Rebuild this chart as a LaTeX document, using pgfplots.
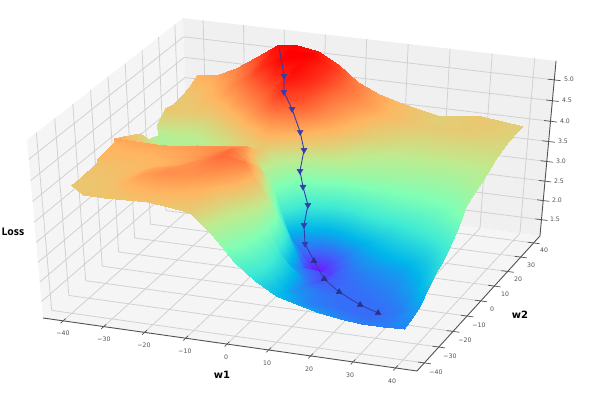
\documentclass[border=0pt]{standalone}
\usepackage{pgfplots}
\usepackage{pgfplotstable}
\pgfplotsset{compat=1.18}
\usepackage{fontspec}
\setmainfont{DejaVu Sans}
\newfontfamily\lossfont{Open Sans}
\definecolor{pathblue}{rgb}{0.2,0.24,0.68}
\definecolor{gridc}{gray}{0.82}
\definecolor{axc}{gray}{0.32}
\definecolor{paneL}{gray}{0.96}
\definecolor{paneB}{gray}{0.94}
\pgfplotstableread[row sep=\\]{
w1 w2 z\\
-18.9 38.6 5.25\\ -11 20.9 5.2\\ -8.7 14.6 5.05\\ -5.4 11 4.8\\ -3.2 10.3 4.3\\ -1.5 8.3 3.95\\ -2.65 8.85 3.4\\ -1.1 6.7 3.1\\ 0.5 5.7 2.7\\ -0.25 5.2 2.2\\ 0.33 4.4 1.75\\ 3.95 0.63 1.5\\ 9.7 -8.2 1.45\\ 16.9 -18.1 1.6\\ 24.4 -25 1.65\\ 30.2 -29.4 1.7\\
}\pathtable
% Loss on a 17 x 17 grid: w2 = 40, 35, ..., -40 (one line each); w1 = -40, -35, ..., 40 along the line
\pgfplotstableread[row sep=\\]{
z\\
4.28\\4.35\\4.57\\4.9\\5.25\\5.3\\5.2\\4.95\\4.57\\4.35\\4.2\\4.1\\4.0\\4.05\\4.1\\4.05\\4.0\\
4.15\\4.25\\4.45\\4.75\\5.15\\5.35\\5.3\\5.05\\4.68\\4.42\\4.22\\4.12\\4.02\\4.03\\4.07\\4.03\\3.98\\
4.07\\4.15\\4.35\\4.65\\5.05\\5.3\\5.25\\5.05\\4.7\\4.45\\4.25\\4.12\\4.05\\4.05\\4.05\\4.0\\3.95\\
4.05\\4.08\\4.2\\4.4\\4.75\\5.1\\5.25\\5.05\\4.6\\4.35\\4.12\\4.0\\3.92\\3.92\\3.92\\3.9\\3.9\\
4.1\\4.05\\4.05\\4.2\\4.5\\4.8\\5.2\\4.95\\4.55\\4.25\\4.0\\3.88\\3.8\\3.8\\3.8\\3.8\\3.83\\
3.85\\3.75\\3.75\\3.95\\4.2\\4.55\\5.0\\4.85\\4.4\\4.1\\3.75\\3.62\\3.6\\3.6\\3.6\\3.65\\3.72\\
3.62\\3.55\\3.55\\3.7\\3.9\\4.15\\4.45\\4.4\\4.05\\3.75\\3.5\\3.42\\3.4\\3.38\\3.4\\3.5\\3.63\\
3.8\\3.68\\3.6\\3.65\\3.78\\3.95\\4.1\\3.4\\2.45\\2.15\\2.4\\2.75\\2.95\\3.05\\3.15\\3.25\\3.5\\
4.0\\3.85\\3.7\\3.7\\3.75\\3.95\\4.15\\3.0\\1.4\\1.12\\1.65\\2.05\\2.35\\2.6\\2.8\\3.05\\3.4\\
4.25\\4.12\\4.05\\4.05\\4.1\\4.25\\4.4\\3.6\\2.25\\1.2\\1.45\\1.8\\2.05\\2.25\\2.42\\2.7\\3.05\\
4.38\\4.36\\4.35\\4.38\\4.45\\4.5\\4.55\\4.05\\2.85\\1.75\\1.5\\1.68\\1.85\\1.97\\2.1\\2.4\\2.78\\
4.28\\4.25\\4.25\\4.3\\4.38\\4.5\\4.68\\4.35\\3.4\\1.95\\1.6\\1.65\\1.75\\1.85\\1.95\\2.2\\2.6\\
4.2\\4.2\\4.2\\4.25\\4.35\\4.52\\4.72\\4.6\\3.85\\2.2\\1.75\\1.7\\1.7\\1.75\\1.85\\2.05\\2.46\\
4.15\\4.15\\4.2\\4.35\\4.45\\4.5\\4.55\\4.3\\3.75\\2.65\\1.9\\1.78\\1.72\\1.72\\1.76\\1.9\\2.25\\
4.1\\4.1\\4.2\\4.4\\4.5\\4.45\\4.3\\3.95\\3.45\\2.75\\2.0\\1.82\\1.75\\1.7\\1.7\\1.8\\2.05\\
4.1\\4.1\\4.15\\4.25\\4.3\\4.25\\4.15\\3.75\\3.25\\2.7\\2.15\\1.9\\1.85\\1.78\\1.75\\1.8\\1.95\\
4.1\\4.1\\4.1\\4.12\\4.14\\4.1\\4.02\\3.55\\2.95\\2.55\\2.26\\2.1\\1.97\\1.9\\1.83\\1.83\\1.86\\
}\surftable
% a segment or polygon in (w1,w2,Loss) through the camera projection
\pgfplotsset{table/proj/.style={x expr={PX(\thisrow{a},\thisrow{b},\thisrow{c})},y expr={PY(\thisrow{a},\thisrow{b},\thisrow{c})},row sep=\\}}
\newcommand\seg[7]{\addplot[#1] table[proj]{a b c\\ #2 #3 #4\\ #5 #6 #7\\};}
\newcommand\lab[3]{\node[font=\fontsize{6.2}{7}\selectfont,text=axc,inner sep=0pt] at (axis cs:#1,406-#2) {#3};}
\begin{document}
\begin{tikzpicture}[declare function={
 DD(\a,\b,\c)=1-0.031*(\a+45)/90+0.076*(\b+45)/90-0.062*(\c-1.07)/4.38;
 PX(\a,\b,\c)=(43+361.07*(\a+45)/90+160.2*(\b+45)/90-17.67*(\c-1.07)/4.38)/DD(\a,\b,\c);
 PY(\a,\b,\c)=406-(318+41.5*(\a+45)/90-112.9*(\b+45)/90-186.7*(\c-1.07)/4.38)/DD(\a,\b,\c);
}]
\begin{axis}[hide axis,scale only axis,width=597pt,height=406pt,xmin=0,xmax=597,ymin=0,ymax=406,
 colormap={rb}{rgb=(.5,0,1) rgb=(.25,.38,.98) rgb=(0,.71,.92) rgb=(.25,.92,.83) rgb=(.5,1,.71) rgb=(.75,.92,.56) rgb=(1,.71,.38) rgb=(1,.38,.2) rgb=(1,0,0)},
 point meta min=1.12,point meta max=5.3]
\path (axis cs:0,0) rectangle (axis cs:597,406);
% panes
\addplot[fill=paneL,draw=none] table[proj]{a b c\\ -45 -45 1.07\\ -45 45 1.07\\ -45 45 5.45\\ -45 -45 5.45\\ -45 -45 1.07\\};
\addplot[fill=paneB,draw=none] table[proj]{a b c\\ -45 45 1.07\\ 45 45 1.07\\ 45 45 5.45\\ -45 45 5.45\\ -45 45 1.07\\};
\addplot[fill=paneL,draw=none] table[proj]{a b c\\ -45 -45 1.07\\ 45 -45 1.07\\ 45 45 1.07\\ -45 45 1.07\\ -45 -45 1.07\\};
% grid
\pgfplotsinvokeforeach{-40,-30,...,40}{
 \seg{gridc,line width=.8pt}{#1}{-45}{1.07}{#1}{45}{1.07}
 \seg{gridc,line width=.8pt}{#1}{45}{1.07}{#1}{45}{5.45}
 \seg{gridc,line width=.8pt}{-45}{#1}{1.07}{45}{#1}{1.07}
 \seg{gridc,line width=.8pt}{-45}{#1}{1.07}{-45}{#1}{5.45}
 \seg{axc,line width=.7pt}{#1}{-43.5}{1.07}{#1}{-46.5}{1.07}
 \seg{axc,line width=.7pt}{43.5}{#1}{1.07}{46.5}{#1}{1.07}
}
\pgfplotsinvokeforeach{1.5,2.0,...,5.0}{
 \seg{gridc,line width=.8pt}{-45}{-45}{#1}{-45}{45}{#1}
 \seg{gridc,line width=.8pt}{-45}{45}{#1}{45}{45}{#1}
 \seg{axc,line width=.7pt}{43.5}{45}{#1}{46.5}{45}{#1}
}
% axis lines
\addplot[axc,line width=.9pt] table[proj]{a b c\\ -45 -45 1.07\\ 45 -45 1.07\\ 45 45 1.07\\ 45 45 5.45\\};
% surface, from the far side to the near side
\addplot[surf,shader=interp,mesh/cols=17,point meta=\thisrow{z}] table[x index=0,y index=0,
 x expr={PX(-40+5*mod(\coordindex,17),40-5*floor(\coordindex/17),\thisrow{z})},
 y expr={PY(-40+5*mod(\coordindex,17),40-5*floor(\coordindex/17),\thisrow{z})}]{\surftable};
% descent path
\addplot[pathblue,line width=.9pt] table[x expr={PX(\thisrow{w1},\thisrow{w2},\thisrow{z})},y expr={PY(\thisrow{w1},\thisrow{w2},\thisrow{z})}]{\pathtable};
\addplot[only marks,pathblue,mark=triangle*,mark size=3.4pt,mark options={rotate=180,pathblue},skip coords between index={0}{1},skip coords between index={11}{16}] table[x expr={PX(\thisrow{w1},\thisrow{w2},\thisrow{z})},y expr={PY(\thisrow{w1},\thisrow{w2},\thisrow{z})}]{\pathtable};
\addplot[only marks,pathblue!80!black,mark=triangle*,mark size=3.4pt,mark options={pathblue!80!black},skip coords between index={0}{11}] table[x expr={PX(\thisrow{w1},\thisrow{w2},\thisrow{z})},y expr={PY(\thisrow{w1},\thisrow{w2},\thisrow{z})}]{\pathtable};
% tick labels
\lab{63}{333}{−40}\lab{104}{339}{−30}\lab{144}{345}{−20}\lab{185}{351}{−10}\lab{226}{357}{0}\lab{267}{363}{10}\lab{309}{369}{20}\lab{350}{375}{30}\lab{392}{381}{40}
\lab{436}{372}{−40}\lab{450}{356}{−30}\lab{465}{340}{−20}\lab{479}{325}{−10}\lab{492}{309}{0}\lab{505}{294}{10}\lab{518}{279}{20}\lab{531}{265}{30}\lab{544}{250}{40}
\lab{569}{79}{5.0}\lab{567}{100}{4.5}\lab{565}{121}{4.0}\lab{563}{141}{3.5}\lab{561}{161}{3.0}\lab{559}{181}{2.5}\lab{557}{200}{2.0}\lab{555}{219}{1.5}
\node[font=\fontsize{10}{12}\selectfont\bfseries,inner sep=0pt] at (axis cs:222,406-375) {w1};
\node[font=\fontsize{10}{12}\selectfont\bfseries,inner sep=0pt] at (axis cs:520,406-315) {w2};
\node[font=\lossfont\fontsize{10.5}{12}\selectfont\bfseries,inner sep=0pt] at (axis cs:13,406-232) {Loss};
\end{axis}
\end{tikzpicture}
\end{document}
